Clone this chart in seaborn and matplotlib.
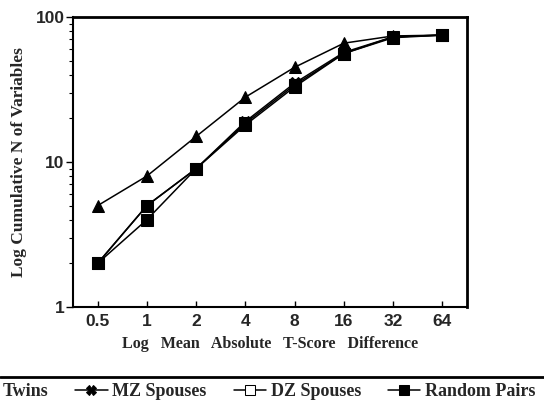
import matplotlib
matplotlib.use("Agg")
import matplotlib.pyplot as plt
import seaborn as sns
import pandas as pd
import numpy as np
from matplotlib.ticker import FixedLocator, NullFormatter, LogLocator
from matplotlib.font_manager import FontProperties

diff = [0.5, 1, 2, 4, 8, 16, 32, 64]
diff_labels = ["0.5", "1", "2", "4", "8", "16", "32", "64"]
twins = [5, 8, 15, 28, 45, 66, 74, 75]
mz_spouses = [2, 5, 9, 19, 35, 57, 73, 75]
dz_spouses = [2, 5, 9, 18.5, 34, 56, 73, 75]
random_pairs = [2, 4, 9, 18, 33, 56, 72, 75]
groups = ["Twins", "MZ Spouses", "DZ Spouses", "Random Pairs"]

df = pd.DataFrame({
    "diff": diff * 4,
    "n": twins + mz_spouses + dz_spouses + random_pairs,
    "group": sum([[g] * len(diff) for g in groups], []),
})

sns.set_style("white")
plt.rcParams["font.family"] = ["Liberation Serif", "DejaVu Serif"]

fig = plt.figure(figsize=(5.44, 4.08), dpi=100)
ax = fig.add_axes([73 / 544, 1 - 307 / 408, (467 - 73) / 544, (307 - 17) / 408])

markers = {"Twins": "^", "MZ Spouses": "X", "DZ Spouses": "s", "Random Pairs": "s"}
pal = {g: "black" for g in groups}
sns.lineplot(data=df, x="diff", y="n", hue="group", style="group", hue_order=groups,
             style_order=groups, markers=markers, dashes=False, palette=pal,
             ax=ax, linewidth=1.1, markersize=9, markeredgecolor="black")

ax.set_xscale("log", base=2)
ax.set_yscale("log")
ax.set_xlim(2 ** -1.5, 2 ** 6.5)
ax.set_ylim(1, 100)
ax.xaxis.set_major_locator(FixedLocator(diff))
ax.xaxis.set_minor_locator(FixedLocator([]))
ax.set_xticklabels(diff_labels)
ax.yaxis.set_major_locator(FixedLocator([1, 10, 100]))
ax.yaxis.set_minor_locator(LogLocator(base=10, subs=np.arange(2, 10)))
ax.yaxis.set_minor_formatter(NullFormatter())
ax.set_yticklabels(["1", "10", "100"])

tickfp = FontProperties(family="Liberation Sans", weight="bold", size=12.5)
for lab in ax.get_xticklabels() + ax.get_yticklabels():
    lab.set_fontproperties(tickfp)

ax.tick_params(axis="x", which="major", direction="in", length=4, width=1, pad=5, color="black")
ax.tick_params(axis="y", which="major", direction="out", length=5, width=1, pad=1, color="black")
ax.tick_params(axis="y", which="minor", direction="out", length=3, width=0.8, color="black", left=True)
ax.tick_params(left=True, bottom=True)

for side in ["left", "bottom"]:
    ax.spines[side].set_linewidth(1.5)
    ax.spines[side].set_color("black")
for side in ["top", "right"]:
    ax.spines[side].set_linewidth(2.0)
    ax.spines[side].set_color("black")

ax.set_xlabel("Log   Mean   Absolute   T-Score   Difference", fontsize=11.5, fontweight="bold", labelpad=5)
ax.set_ylabel("Log Cumulative N of Variables", fontsize=12.5, fontweight="bold", labelpad=6)

handles, labels = ax.get_legend_handles_labels()
ax.get_legend().remove()
for h, l in zip(handles, labels):
    if l == "DZ Spouses":
        h.set_markerfacecolor("white")
    h.set_markersize(7)
fig.legend(handles, labels, loc="center left", bbox_to_anchor=(-0.064, 1 - 392 / 408), ncol=4,
           frameon=False, prop=dict(family="Liberation Serif", weight="bold", size=13),
           handlelength=1.8, handletextpad=0.25, columnspacing=1.5, borderpad=0, borderaxespad=0)
fig.add_artist(plt.Line2D([0, 1], [1 - 377 / 408] * 2, color="black", linewidth=2, transform=fig.transFigure))

fig.savefig("out.png", dpi=100)
